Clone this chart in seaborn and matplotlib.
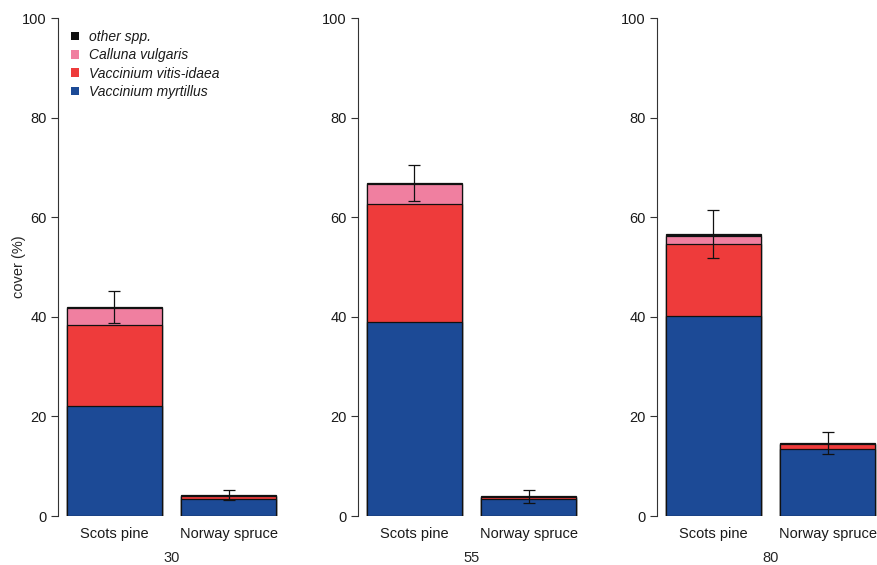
import matplotlib
matplotlib.use("Agg")
import matplotlib.pyplot as plt
from matplotlib.patches import Patch
import seaborn as sns
import pandas as pd
import numpy as np

# Stand age classes (years) and stand types
ages = ["30", "55", "80"]
stands = ["Scots pine", "Norway spruce"]

# Mean cover (%) of each species group, ordered age-by-age, Scots pine then Norway spruce
myrtillus = [22.1, 3.4, 39.0, 3.4, 40.1, 13.4]
vitis_idaea = [16.3, 0.6, 23.6, 0.5, 14.6, 1.1]
calluna = [3.3, 0.0, 4.1, 0.0, 1.6, 0.0]
other = [0.3, 0.2, 0.1, 0.1, 0.3, 0.1]
# Standard error of total cover
total_se = [3.2, 1.0, 3.6, 1.3, 4.8, 2.25]

species = ["other spp.", "Calluna vulgaris", "Vaccinium vitis-idaea", "Vaccinium myrtillus"]
colors = {"other spp.": "#111111", "Calluna vulgaris": "#F07FA0",
          "Vaccinium vitis-idaea": "#EE3B3B", "Vaccinium myrtillus": "#1C4A96"}

df = pd.DataFrame({
    "age": np.repeat(ages, len(stands)),
    "stand": stands * len(ages),
    "Vaccinium myrtillus": myrtillus,
    "Vaccinium vitis-idaea": vitis_idaea,
    "Calluna vulgaris": calluna,
    "other spp.": other,
    "se": total_se,
})
# cumulative heights, bottom-up stacking
stack_order = ["Vaccinium myrtillus", "Vaccinium vitis-idaea", "Calluna vulgaris", "other spp."]
cum = df[stack_order].cumsum(axis=1)
for sp in stack_order:
    df["cum_" + sp] = cum[sp]
df["total"] = cum["other spp."]

sns.set_theme(style="ticks")
plt.rcParams["font.family"] = ["Liberation Sans", "DejaVu Sans"]
plt.rcParams["text.color"] = "#1a1a1a"

fig = plt.figure(figsize=(8.77, 5.65), dpi=100)
lefts = [58 / 877, 358 / 877, 657 / 877]
bottom = (565 - 516) / 565
height = (516 - 18) / 565
width = 227 / 877
bar_w = 1 / 1.2
fs = 10.5

for i, age in enumerate(ages):
    ax = fig.add_axes([lefts[i], bottom, width, height])
    sub = df[df["age"] == age].reset_index(drop=True)
    # draw tallest cumulative layer first so lower layers overlay it
    for sp in reversed(stack_order):
        sns.barplot(data=sub, x="stand", y="cum_" + sp, order=stands, ax=ax,
                    color=colors[sp], saturation=1, width=bar_w,
                    edgecolor="#111111", linewidth=0.9, errorbar=None)
    ax.errorbar(x=np.arange(len(stands)), y=sub["total"], yerr=sub["se"],
                fmt="none", ecolor="#111111", elinewidth=0.9, capsize=4, capthick=0.9)
    ax.set_ylim(0, 100)
    ax.set_xlim(-0.495, 1.495)
    ax.set_yticks(range(0, 101, 20))
    ax.tick_params(axis="y", length=5, width=0.8, labelsize=fs, colors="#333333",
                   labelcolor="#1a1a1a", pad=3)
    ax.tick_params(axis="x", length=0, labelsize=fs, labelcolor="#1a1a1a", pad=8)
    for s in ["top", "right", "bottom"]:
        ax.spines[s].set_visible(False)
    ax.spines["left"].set_color("#333333")
    ax.spines["left"].set_linewidth(0.8)
    ax.set_xlabel(age, fontsize=fs, labelpad=7)
    ax.set_facecolor("white")
    if i == 0:
        ax.set_ylabel("cover (%)", fontsize=fs, labelpad=-3)
        handles = [Patch(facecolor=colors[sp], edgecolor="none") for sp in species]
        leg = ax.legend(handles, species, loc="upper left", bbox_to_anchor=(0.015, 0.995),
                        frameon=False, handlelength=0.55, handleheight=0.55,
                        handletextpad=0.75, labelspacing=0.3, fontsize=10,
                        borderaxespad=0.3)
        for t in leg.get_texts():
            t.set_fontstyle("italic")
    else:
        ax.set_ylabel("")

fig.savefig("out.png", dpi=100, facecolor="white")
